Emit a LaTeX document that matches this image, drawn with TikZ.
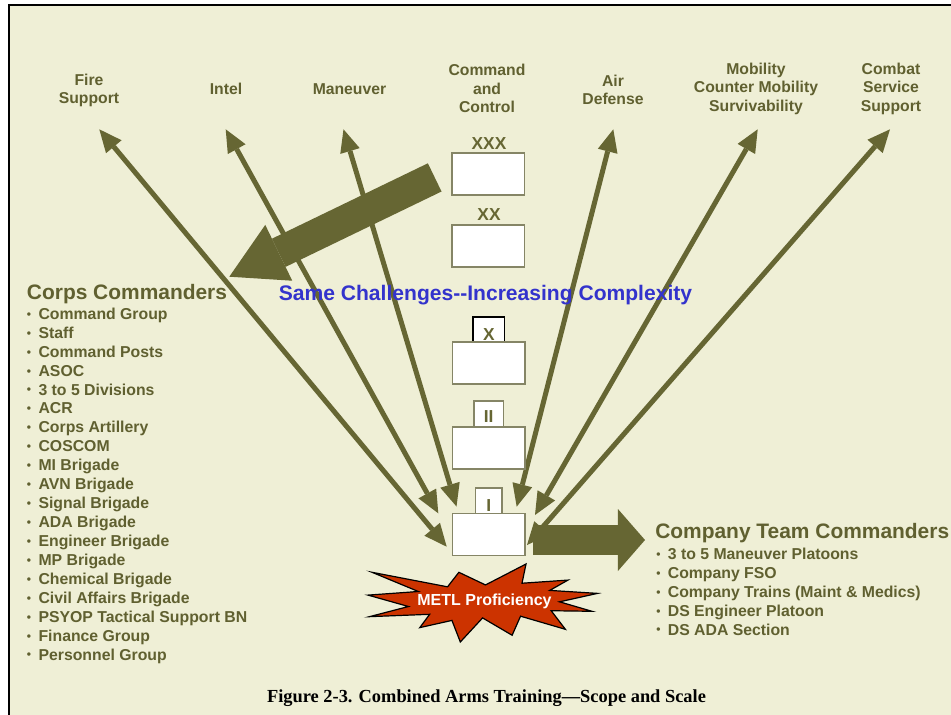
\documentclass[tikz,border=0pt]{standalone}
\usepackage{fontspec}
\setmainfont{Liberation Sans}
\newfontfamily\captionserif{Liberation Serif}
\usetikzlibrary{arrows.meta}

\definecolor{cream}{HTML}{EFEFD6}
\definecolor{olive}{HTML}{666633}
\definecolor{olivetext}{HTML}{606030}
\definecolor{boxline}{HTML}{858566}
\definecolor{challenge}{HTML}{3333CC}
\definecolor{burst}{HTML}{CC3300}

% small bullet in front of each list entry
\newcommand\lstbullet{\makebox[8.7pt][l]{\fontsize{9}{9}\selectfont\raisebox{0.8pt}{•}}}

\begin{document}
\begin{tikzpicture}[x=0.75pt,y=-0.75pt,
  toplabel/.style={font=\fontsize{11.8}{13.9}\selectfont\bfseries, text=olivetext, align=center, inner sep=0pt},
  titletext/.style={font=\fontsize{15.7}{18}\selectfont\bfseries, text=olivetext, anchor=base west, inner sep=0pt},
  listitem/.style={font=\fontsize{11.85}{14}\selectfont\bfseries, text=olivetext, anchor=base west, inner sep=0pt},
  echlabel/.style={font=\fontsize{13}{15}\selectfont\bfseries, text=olive, inner sep=0pt},
  unitbox/.style={draw=boxline, fill=white, line width=1.1pt, minimum width=54.4pt, minimum height=31.5pt, inner sep=0pt},
  tabbox/.style={draw=boxline, fill=white, line width=1.1pt, minimum height=19.2pt, inner sep=0pt},
  thinarrow/.style={draw=olive, line width=3.75pt,
    {Triangle[length=17pt,width=15.2pt,line width=0pt]}-{Triangle[length=17pt,width=15.2pt,line width=0pt]}},
  bigarrow/.style={draw=olive}
]
\useasboundingbox (0,0) rectangle (951,715);

% page and frame
\fill[white] (0,0) rectangle (951,715);
\fill[cream] (9,5) rectangle (951,715);
\draw[line width=2.2pt, black] (9,715) -- (9,5) -- (951,5);

% end points of the two-way arrows
\coordinate (fsTop) at (99.3,129.3);  \coordinate (fsEnd) at (446.7,546.7);
\coordinate (inTop) at (225.7,129.3); \coordinate (inEnd) at (438.3,513.3);
\coordinate (mnTop) at (343.5,129.3); \coordinate (mnEnd) at (456.5,506.5);
\coordinate (adTop) at (613.3,129.3); \coordinate (adEnd) at (516.7,506.7);
\coordinate (mbTop) at (757.7,129.3); \coordinate (mbEnd) at (535,515);
\coordinate (csTop) at (890,129.3);   \coordinate (csEnd) at (527,545);

\draw[thinarrow] (fsEnd) -- (fsTop);
\draw[thinarrow] (inEnd) -- (inTop);
\draw[thinarrow] (mnEnd) -- (mnTop);
\draw[thinarrow] (adEnd) -- (adTop);
\draw[thinarrow] (mbEnd) -- (mbTop);
\draw[thinarrow] (csEnd) -- (csTop);

% broad arrows
\coordinate (xxxTail) at (434.7,177.4); \coordinate (corpsTip) at (229.3,276.7);
\draw[bigarrow, line width=23.5pt, -{Triangle[length=41.2pt,width=46.5pt,line width=0pt]}] (xxxTail) -- (corpsTip);
\coordinate (coTail) at (533.3,540); \coordinate (coTip) at (645,540);
\draw[bigarrow, line width=22.5pt, -{Triangle[length=20.3pt,width=46.5pt,line width=0pt]}] (coTail) -- (coTip);

% echelon boxes
\node[echlabel] (xxxlab) at (489,143.5) {XXX};
\node[unitbox] (xxxbox) at (488.3,174) {};
\node[echlabel] (xxlab) at (489,214.4) {XX};
\node[unitbox] (xxbox) at (488.3,246) {};

\node[tabbox, draw=black, minimum width=23.8pt, minimum height=18.8pt] (xtab) at (488.8,329.5) {};
\node[unitbox] (xbox) at (488.8,363) {};
\node[echlabel] (xlab) at (488.8,334.5) {X};

\node[tabbox, minimum width=22pt] (iitab) at (488.7,413.7) {};
\node[unitbox] (iibox) at (488.5,448) {};
\node[echlabel] (iilab) at (488.7,417) {II};

\node[tabbox, minimum width=20pt] (itab) at (488.7,500.7) {};
\node[unitbox] (ibox) at (488.5,534.7) {};
\node[echlabel] (ilab) at (488.7,505.5) {I};

% explosion behind the METL label
\begin{scope}[shift={(368,564)}, xscale=1.088, yscale=0.361]
\filldraw[fill=burst, draw=black, line width=0.9pt, line join=miter]
  (108,58) -- (145.22,0) -- (141.55,53.25) -- (183.8,44.57) -- (167.02,73.15)
  -- (210.97,81.37) -- (176.07,104.75) -- (205.83,130.98) -- (168.37,129.42)
  -- (181.45,180.95) -- (140.2,144.57) -- (132.47,197.37) -- (105.32,149.35)
  -- (84.85,216) -- (77.15,156.27) -- (47.62,176.17) -- (56.67,139.37)
  -- (1.35,145.87) -- (37.22,117.75) -- (0,86.15) -- (46.27,76.17)
  -- (3.7,22.95) -- (73.12,63.2) -- (83.52,22.95) -- cycle;
\end{scope}
\node[font=\fontsize{12}{14}\selectfont\bfseries, text=white, inner sep=0pt] (metl) at (484.5,601.7) {METL Proficiency};

% functional areas along the top
\node[toplabel] (fire) at (89,90.5) {Fire\\Support};
\node[toplabel] (intel) at (226,89) {Intel};
\node[toplabel] (maneuver) at (349.5,89) {Maneuver};
\node[toplabel] (ctrl) at (487,88.5) {Command\\and\\Control};
\node[toplabel] (airdef) at (613,90) {Air\\Defense};
\node[toplabel] (mobility) at (756,88.5) {Mobility\\Counter Mobility\\Survivability};
\node[toplabel] (css) at (891,88.5) {Combat\\Service\\Support};

\node[font=\fontsize{15.8}{18}\selectfont\bfseries, text=challenge, inner sep=0pt] (challenges) at (485.5,295)
  {Same Challenges\mbox{-}\mbox{-}Increasing Complexity};

% corps level
\node[titletext] (corpsTitle) at (26.7,299.5) {Corps Commanders};
\foreach \t [count=\i] in {Command Group, Staff, Command Posts, ASOC, 3 to 5 Divisions, ACR,
    Corps Artillery, COSCOM, MI Brigade, AVN Brigade, Signal Brigade, ADA Brigade,
    Engineer Brigade, MP Brigade, Chemical Brigade, Civil Affairs Brigade,
    PSYOP Tactical Support BN, Finance Group, Personnel Group}
  \node[listitem] (corps-\i) at (26.7,{319.3+(\i-1)*18.93}) {\lstbullet\t};

% company level
\node[titletext] (companyTitle) at (655,538.3) {Company Team Commanders};
\foreach \t [count=\i] in {3 to 5 Maneuver Platoons, Company FSO, Company Trains (Maint \& Medics),
    DS Engineer Platoon, DS ADA Section}
  \node[listitem] (company-\i) at (656,{559.3+(\i-1)*18.93}) {\lstbullet\t};

\node[font={\captionserif\fontsize{13.8}{16}\selectfont\bfseries}, anchor=base, inner sep=0pt] (caption) at (486.5,702)
  {Figure 2-3. Combined Arms Training—Scope and Scale};
\end{tikzpicture}
\end{document}
